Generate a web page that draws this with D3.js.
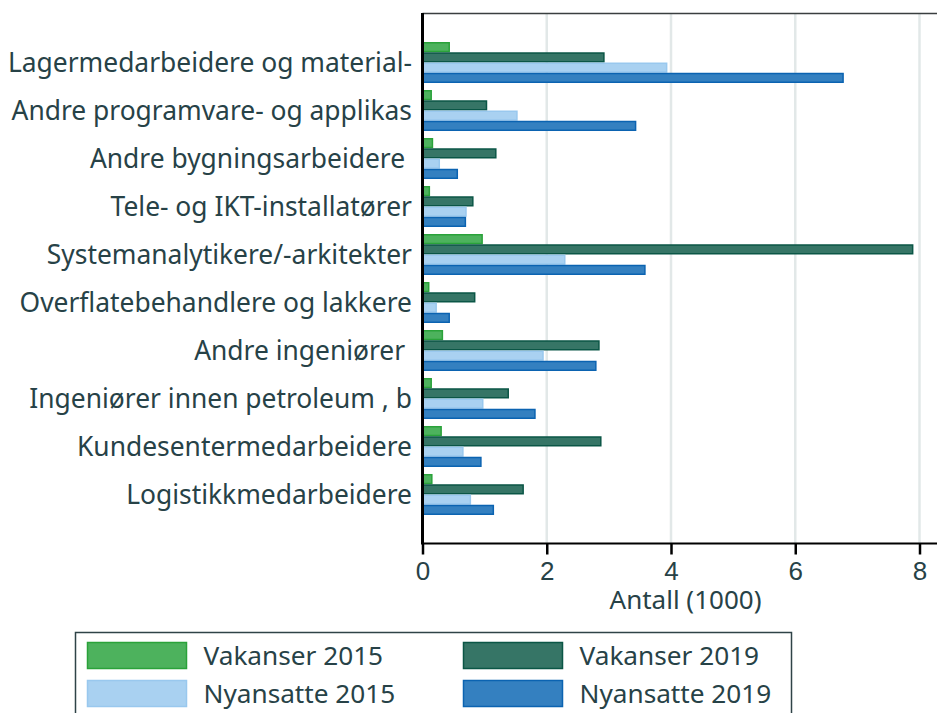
<!DOCTYPE html>
<html>
<head>
<meta charset="utf-8">
<script src="https://cdn.jsdelivr.net/npm/d3@7"></script>
<style>
  body { margin: 0; background: #fff; }
  svg { display: block; font-family: "Noto Sans", "Open Sans", sans-serif; }
</style>
</head>
<body>
<svg width="937" height="713"></svg>
<script>
// categories (top to bottom)
const categories = [
  "Lagermedarbeidere og material-",
  "Andre programvare- og applikas",
  "Andre bygningsarbeidere ",
  "Tele- og IKT-installatører",
  "Systemanalytikere/-arkitekter",
  "Overflatebehandlere og lakkere",
  "Andre ingeniører ",
  "Ingeniører innen petroleum , b",
  "Kundesentermedarbeidere",
  "Logistikkmedarbeidere"
];

// values in 1000
const vakanser2015 = [0.43, 0.14, 0.16, 0.11, 0.96, 0.10, 0.32, 0.14, 0.30, 0.15];
const vakanser2019 = [2.92, 1.03, 1.18, 0.81, 7.89, 0.84, 2.84, 1.38, 2.87, 1.62];
const nyansatte2015 = [3.93, 1.52, 0.27, 0.70, 2.29, 0.22, 1.94, 0.97, 0.65, 0.77];
const nyansatte2019 = [6.77, 3.43, 0.56, 0.69, 3.58, 0.43, 2.79, 1.81, 0.94, 1.14];

const seriesNames = ["Vakanser 2015", "Vakanser 2019", "Nyansatte 2015", "Nyansatte 2019"];
const xTicks = [0, 2, 4, 6, 8];

const series = [vakanser2015, vakanser2019, nyansatte2015, nyansatte2019];
const fills = ["#4db25d", "#367566", "#a9d1f1", "#3480c0"];
const strokes = ["#2aa23a", "#0b5646", "#99c8ee", "#0b63b1"];
const textColor = "#274247";

const plot = { left: 422.5, right: 937, top: 13.5, bottom: 543.5 };

const svg = d3.select("svg");

const x = d3.scaleLinear()
  .domain([0, 8])
  .range([plot.left, 919.5]);

// outer band per category, inner band per series
const y = d3.scaleBand()
  .domain(categories)
  .range([plot.top, plot.bottom])
  .paddingInner(7 / 48)
  .paddingOuter(0.594);

const y1 = d3.scaleBand()
  .domain(seriesNames)
  .range([0, y.bandwidth()]);

// grid lines
svg.append("g")
  .selectAll("line")
  .data(xTicks.filter(d => d > 0))
  .enter()
  .append("line")
  .attr("x1", d => x(d))
  .attr("x2", d => x(d))
  .attr("y1", plot.top)
  .attr("y2", plot.bottom)
  .attr("stroke", "#e2e8e8")
  .attr("stroke-width", 2.5);

// top border
svg.append("line")
  .attr("x1", plot.left)
  .attr("x2", plot.right)
  .attr("y1", plot.top)
  .attr("y2", plot.top)
  .attr("stroke", "#3a3f40")
  .attr("stroke-width", 1.5);

// bars
const groups = svg.append("g")
  .selectAll("g")
  .data(series)
  .enter()
  .append("g");

groups.selectAll("rect")
  .data((vals, si) => vals.map((v, ci) => ({ v: v, c: categories[ci], s: si })))
  .enter()
  .append("rect")
  .attr("x", x(0))
  .attr("y", d => y(d.c) + y1(seriesNames[d.s]) + 0.75)
  .attr("width", d => x(d.v) - x(0))
  .attr("height", y1.bandwidth() - 1.5)
  .attr("fill", d => fills[d.s])
  .attr("stroke", d => strokes[d.s])
  .attr("stroke-width", 1.5);

// x axis
const xAxis = svg.append("g")
  .attr("transform", `translate(0, ${plot.bottom})`)
  .call(d3.axisBottom(x).tickValues(xTicks).tickSize(11).tickFormat(d3.format("d")));

xAxis.select(".domain").remove();
xAxis.selectAll(".tick line").attr("stroke", "#000").attr("stroke-width", 2.5);
xAxis.selectAll(".tick text")
  .attr("fill", textColor)
  .style("font-size", "26px")
  .attr("y", 36)
  .attr("dy", 0);

svg.append("line")
  .attr("x1", plot.left)
  .attr("x2", plot.right)
  .attr("y1", plot.bottom)
  .attr("y2", plot.bottom)
  .attr("stroke", "#000")
  .attr("stroke-width", 2);

// y axis (left line + labels)
svg.append("line")
  .attr("x1", plot.left)
  .attr("x2", plot.left)
  .attr("y1", plot.top - 0.5)
  .attr("y2", plot.bottom + 1)
  .attr("stroke", "#000")
  .attr("stroke-width", 3);

svg.append("g")
  .selectAll("text")
  .data(categories)
  .enter()
  .append("text")
  .attr("x", 412)
  .attr("y", d => y(d) + y.bandwidth() / 2)
  .attr("dy", "0.36em")
  .attr("text-anchor", "end")
  .attr("fill", textColor)
  .style("font-size", "26.4px")
  .style("white-space", "pre")
  .text(d => d);

// axis title
svg.append("text")
  .attr("x", 685.5)
  .attr("y", 609)
  .attr("text-anchor", "middle")
  .attr("fill", textColor)
  .style("font-size", "26px")
  .text("Antall (1000)");

// legend
const legend = svg.append("g").attr("class", "legend");

legend.append("rect")
  .attr("x", 75.5)
  .attr("y", 632.5)
  .attr("width", 716)
  .attr("height", 100)
  .attr("fill", "none")
  .attr("stroke", "#2f4347")
  .attr("stroke-width", 1.5);

const legendItems = legend.selectAll("g.legend-item")
  .data(seriesNames)
  .enter()
  .append("g")
  .attr("class", "legend-item")
  .attr("transform", (d, i) => `translate(${i % 2 === 0 ? 87.5 : 463.5}, ${i < 2 ? 642.5 : 680.5})`);

legendItems.append("rect")
  .attr("width", 99)
  .attr("height", 26)
  .attr("fill", (d, i) => fills[i])
  .attr("stroke", (d, i) => strokes[i])
  .attr("stroke-width", 1.5);

legendItems.append("text")
  .attr("x", 116)
  .attr("y", 13)
  .attr("dy", "0.36em")
  .attr("fill", textColor)
  .style("font-size", "26.2px")
  .text(d => d);
</script>
</body>
</html>
